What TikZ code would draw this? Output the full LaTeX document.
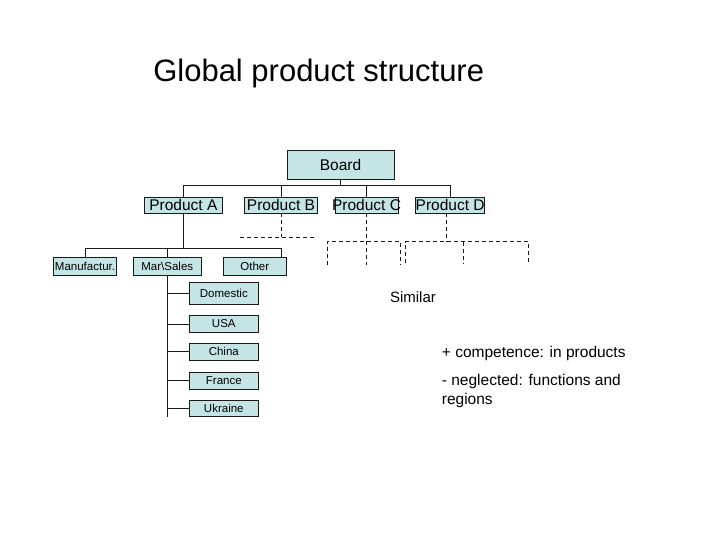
\documentclass[tikz,border=0pt]{standalone}
\usepackage{fontspec}
\setmainfont{Liberation Sans}
\usepackage{tikz}
\usetikzlibrary{positioning}
\definecolor{boxfill}{RGB}{196,228,230}
\definecolor{linecol}{RGB}{25,25,25}
\tikzset{
	unit/.style     = {draw=linecol, fill=boxfill, inner sep=0pt, line width=0.8pt},
	big/.style      = {unit, font=\midfont},
	small/.style    = {unit, font=\tinyfont, minimum height=17pt},
	branch/.style   = {draw=linecol, line width=0.8pt},
	dashbranch/.style = {branch, dash pattern=on 4pt off 3pt}, % dashed tree
	note/.style     = {inner sep=0pt, font=\midfont}
}
\newcommand{\titlefont}{\fontsize{31}{36}\selectfont}
\newcommand{\midfont}{\fontsize{15.5}{19.5}\selectfont}
\newcommand{\tinyfont}{\fontsize{11.5}{13}\selectfont}

\begin{document}
\begin{tikzpicture}[x=1pt, y=-1pt]
	\useasboundingbox (0,0) rectangle (720,540);
	\node[anchor=base, inner sep=0pt, font=\titlefont] (title) at (318.7,81.7) {Global product structure};

	\draw
	node at (340.5,164.5)[big, minimum width=107pt, minimum height=29pt] (board) {Board}
	node at (183.4,205)[big, minimum width=78.7pt, minimum height=16pt] (pa) {Product A}
	node at (281,205)[big, minimum width=72.3pt, minimum height=16pt] (pb) {Product B}
	node at (366.5,205)[big, minimum width=63pt, minimum height=16pt] (pc) {\makebox[0pt]{Product C}}
	node at (450.2,205)[big, minimum width=67.5pt, minimum height=16pt] (pd) {Product D};

	\draw
	node at (85,266)[small, minimum width=63.4pt, minimum height=18pt] (mf) {Manufactur.}
	node at (167.3,266)[small, minimum width=68.7pt, minimum height=18pt] (ms) {Mar\textbackslash Sales}
	node at (254.8,266)[small, minimum width=63.7pt, minimum height=18pt] (other) {Other};

	\draw
	node at (223.8,293.3)[small, minimum width=69pt, minimum height=22pt] (dom) {Domestic}
	node at (223.8,324)[small, minimum width=69pt] (usa) {USA}
	node at (223.8,351.7)[small, minimum width=69pt] (china) {China}
	node at (223.8,380.7)[small, minimum width=69pt] (france) {France}
	node at (223.8,408.7)[small, minimum width=69pt, minimum height=16pt] (ukr) {Ukraine};

	\node[note, font=\fontsize{15}{18}\selectfont] (similar) at (413,297) {Similar};
	\node[note, anchor=base west] (plus) at (441.7,357) {+ competence: in products};
	\node[note, anchor=north west, align=left] (minus) at (441.7,374) {- neglected: functions and\\regions};

	% solid tree
	\coordinate (bus1) at (0,185);
	\coordinate (bus2) at (0,248);
	\coordinate (stemend) at (0,416.7);
	\draw[branch] (board.south) -- (board.south |- bus1);
	\draw[branch] (pa.north) -- (pa.north |- bus1) -- (pd.north |- bus1) -- (pd.north);
	\draw[branch] (pb.north) -- (pb.north |- bus1);
	\draw[branch] (pc.north) -- (pc.north |- bus1);
	\draw[branch] (pa.south) -- (pa.south |- bus2);
	\draw[branch] (mf.north) -- (mf.north |- bus2) -- (pb |- bus2) -- (other.north -| pb);
	\draw[branch] (ms.north) -- (ms.north |- bus2);
	\draw[branch] (ms.south) -- (ms.south |- stemend);
	\foreach \c in {dom, usa, china, france, ukr}
		\draw[branch] (ms.south |- \c.west) -- (\c.west);

	% dashed trees
	\coordinate (bl) at (240,237);
	\coordinate (br) at (315,237);
	\draw[dashbranch] (pb.south) -- (pb.south |- bl);
	\draw[dashbranch] (bl) -- (br);

	\coordinate (cl) at (327,241.7);
	\coordinate (cr) at (400,241.7);
	\coordinate (cbot) at (0,265);
	\draw[dashbranch] (pc.south) -- (pc.south |- cbot);
	\draw[dashbranch] (cl |- cbot) -- (cl) -- (cr) -- (cr |- cbot);

	\coordinate (dl) at (405,241.7);
	\coordinate (dm) at (463,241.7);
	\coordinate (dr) at (528,241.7);
	\coordinate (dbot) at (0,263);
	\draw[dashbranch] ([xshift=-4pt]pd.south) -- ([xshift=-4pt]pd.south |- dl);
	\draw[dashbranch] (dl |- dbot) -- (dl) -- (dr) -- (dr |- dbot);
	\draw[dashbranch] (dm) -- (dm |- dbot);
\end{tikzpicture}
\end{document}
